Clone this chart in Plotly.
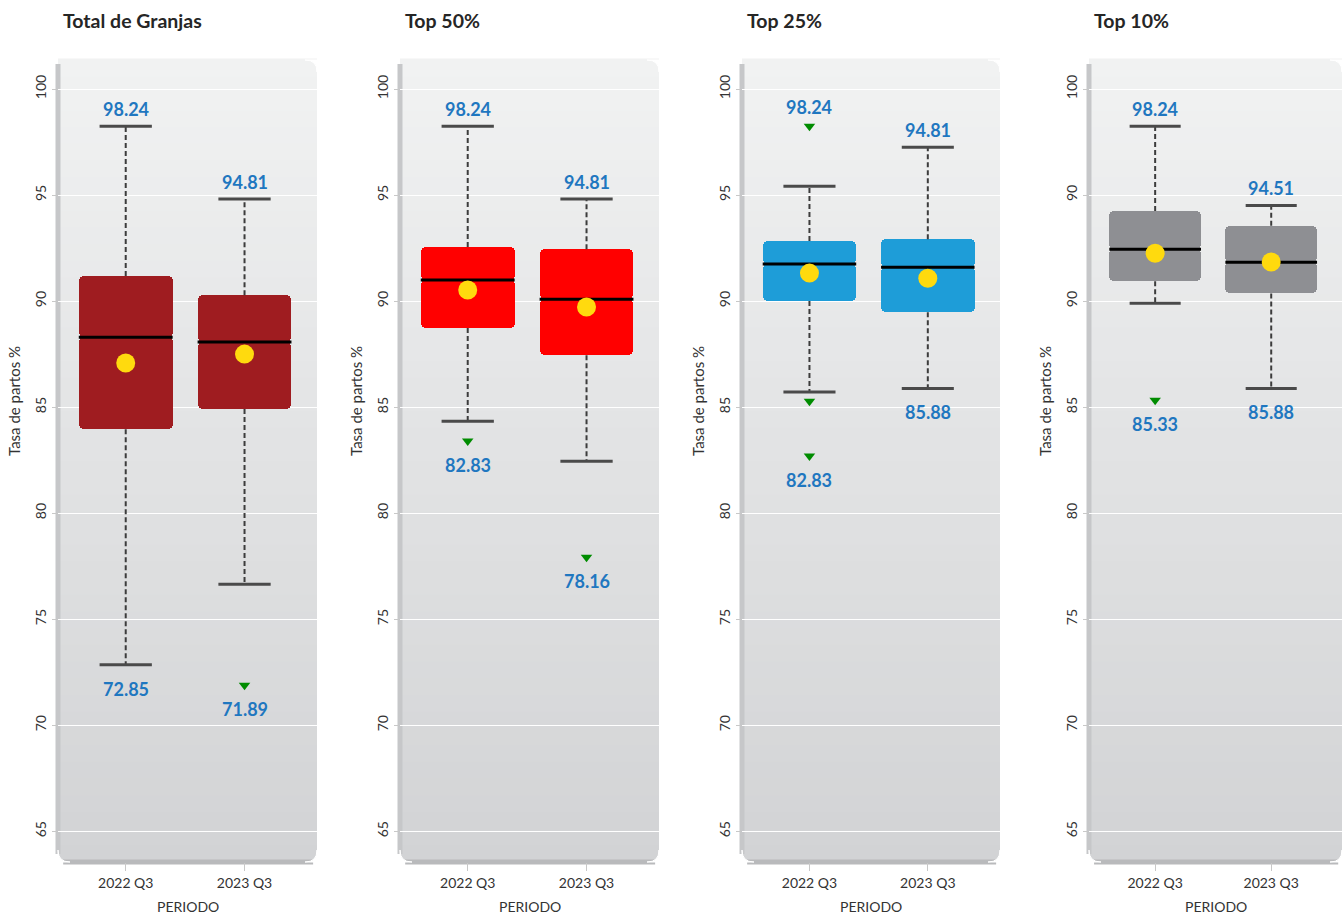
import plotly.graph_objects as go

# ---------------- data ----------------
periods = ["2022 Q3", "2023 Q3"]
panel_titles = ["Total de Granjas", "Top 50%", "Top 25%", "Top 10%"]
box_colors = ["#9F1C20", "#FF0000", "#1E9DD8", "#8E8F93"]

q1 = [[83.96, 84.91], [88.73, 87.45], [90.00, 89.48], [90.94, 90.36]]
medians = [[88.30, 88.07], [90.99, 90.09], [91.75, 91.60], [92.45, 91.83]]
q3 = [[91.18, 90.28], [92.55, 92.45], [92.83, 92.92], [94.25, 93.55]]
lower_whisker = [[72.85, 76.65], [84.34, 82.45], [85.71, 85.88], [89.90, 85.88]]
upper_whisker = [[98.24, 94.81], [98.24, 94.81], [95.42, 97.26], [98.24, 94.51]]
means = [[87.08, 87.50], [90.52, 89.72], [91.32, 91.08], [92.26, 91.84]]
outliers = [[[], [71.89]], [[83.40], [77.92]], [[98.24, 85.28, 82.69], []], [[85.33], []]]
top_labels = [["98.24", "94.81"], ["98.24", "94.81"], ["98.24", "94.81"], ["98.24", "94.51"]]
bottom_labels = [["72.85", "71.89"], ["82.83", "78.16"], ["82.83", "85.88"], ["85.33", "85.88"]]

y_tick_vals = [65, 70, 75, 80, 85, 90, 95, 100]
y_tick_text = [
    ["65", "70", "75", "80", "85", "90", "95", "100"],
    ["65", "70", "75", "80", "85", "90", "95", "100"],
    ["65", "70", "75", "80", "85", "90", "95", "100"],
    ["65", "70", "75", "80", "85", "90", "90", "100"],
]

# ---------------- layout constants ----------------
W, H = 1342, 916
FONT = "Lato"
panel_px = [(58, 317), (400, 659), (742, 1000), (1089, 1342)]
y_top_px, y_bot_px = 60, 862
y_range = [63.55, 101.37]
x_range = [-0.57, 1.61]
box_w = 0.79
cap_half = 0.22
LABEL_COLOR = "#1F77C0"

fig = go.Figure()
shapes = []
annotations = []


def lerp_color(c0, c1, t):
    a = [int(c0[i:i + 2], 16) for i in (1, 3, 5)]
    b = [int(c1[i:i + 2], 16) for i in (1, 3, 5)]
    return "rgb(%d,%d,%d)" % tuple(round(a[k] + (b[k] - a[k]) * t) for k in range(3))


for p in range(4):
    xa = "x" if p == 0 else f"x{p + 1}"
    ya = "y" if p == 0 else f"y{p + 1}"
    xs = [0, 1]

    # boxes: two halves so all four corners get rounded
    fig.add_trace(go.Bar(
        x=xs, base=medians[p], y=[q3[p][i] - medians[p][i] for i in range(2)],
        width=box_w, marker=dict(color=box_colors[p], line=dict(width=0), cornerradius=5),
        xaxis=xa, yaxis=ya, showlegend=False, hoverinfo="skip"))
    fig.add_trace(go.Bar(
        x=xs, base=medians[p], y=[q1[p][i] - medians[p][i] for i in range(2)],
        width=box_w, marker=dict(color=box_colors[p], line=dict(width=0), cornerradius=5),
        xaxis=xa, yaxis=ya, showlegend=False, hoverinfo="skip"))

    # dashed whiskers
    wx, wy = [], []
    for i in range(2):
        wx += [i, i, None, i, i, None]
        wy += [q3[p][i], upper_whisker[p][i], None, q1[p][i], lower_whisker[p][i], None]
    fig.add_trace(go.Scatter(x=wx, y=wy, mode="lines",
                             line=dict(color="#3C3C3C", width=2, dash="5px,3px"),
                             xaxis=xa, yaxis=ya, showlegend=False, hoverinfo="skip"))
    # caps
    cx, cy = [], []
    for i in range(2):
        for v in (upper_whisker[p][i], lower_whisker[p][i]):
            cx += [i - cap_half, i + cap_half, None]
            cy += [v, v, None]
    fig.add_trace(go.Scatter(x=cx, y=cy, mode="lines",
                             line=dict(color="#4A4A4A", width=3),
                             xaxis=xa, yaxis=ya, showlegend=False, hoverinfo="skip"))
    # medians
    mx, my = [], []
    for i in range(2):
        mx += [i - box_w / 2, i + box_w / 2, None]
        my += [medians[p][i], medians[p][i], None]
    fig.add_trace(go.Scatter(x=mx, y=my, mode="lines",
                             line=dict(color="#000000", width=3),
                             xaxis=xa, yaxis=ya, showlegend=False, hoverinfo="skip"))
    # means
    fig.add_trace(go.Scatter(x=xs, y=means[p], mode="markers",
                             marker=dict(color="#FFDA0E", size=19, line=dict(width=0)),
                             xaxis=xa, yaxis=ya, showlegend=False, hoverinfo="skip"))
    # outliers
    ox, oy = [], []
    for i in range(2):
        for v in outliers[p][i]:
            ox.append(i)
            oy.append(v)
    if ox:
        fig.add_trace(go.Scatter(x=ox, y=oy, mode="markers",
                                 marker=dict(color="#008C00", size=10, symbol="triangle-down",
                                             line=dict(width=0)),
                                 xaxis=xa, yaxis=ya, showlegend=False, hoverinfo="skip"))

    # value labels
    for i in range(2):
        top_v = max([upper_whisker[p][i]] + outliers[p][i])
        top_is_out = top_v in outliers[p][i] and top_v > upper_whisker[p][i]
        annotations.append(dict(
            x=i, y=top_v, xref=xa, yref=ya, text=f"<b>{top_labels[p][i]}</b>",
            showarrow=False, yanchor="bottom", yshift=6 if top_is_out else 4,
            font=dict(family=FONT, size=18, color=LABEL_COLOR)))
        bot_v = min([lower_whisker[p][i]] + outliers[p][i])
        annotations.append(dict(
            x=i, y=bot_v, xref=xa, yref=ya, text=f"<b>{bottom_labels[p][i]}</b>",
            showarrow=False, yanchor="top", yshift=-11,
            font=dict(family=FONT, size=18, color=LABEL_COLOR)))

    # panel title
    annotations.append(dict(
        x=0, xref=f"{xa} domain", xshift=3, y=1 - 20 / H, yref="paper",
        text=f"<b>{panel_titles[p]}</b>", showarrow=False, xanchor="left", yanchor="middle",
        font=dict(family=FONT, size=19.5, color="#262626")))
    # y title
    annotations.append(dict(
        x=0, xref=f"{xa} domain", xshift=-44, y=1 - 401 / H, yref="paper",
        text="Tasa de partos %", textangle=-90, showarrow=False,
        xanchor="center", yanchor="middle",
        font=dict(family=FONT, size=15, color="#333333")))
    # x title
    annotations.append(dict(
        x=0.5, xref=f"{xa} domain", y=1 - 906 / H, yref="paper",
        text="PERIODO", showarrow=False, xanchor="center", yanchor="middle",
        font=dict(family=FONT, size=14, color="#333333")))

    # background gradient panel
    N = 48
    for k in range(N):
        shapes.append(dict(type="rect", xref=f"{xa} domain", yref=f"{ya} domain",
                           x0=0, x1=1, y0=k / N, y1=(k + 1) / N + 0.002,
                           fillcolor=lerp_color("#D2D3D5", "#F1F2F2", k / (N - 1)),
                           line=dict(width=0), layer="below"))
    # left / bottom shadow border
    shapes.append(dict(type="line", xref=f"{xa} domain", yref=f"{ya} domain",
                       x0=0, x1=0, y0=0.01, y1=0.995, line=dict(color="#C6C7C9", width=5),
                       layer="below"))
    shapes.append(dict(type="line", xref=f"{xa} domain", yref=f"{ya} domain",
                       x0=0.02, x1=0.985, y0=0, y1=0, line=dict(color="#B9BABC", width=5),
                       layer="below"))
    # rounded corner masks
    pw = panel_px[p][1] - panel_px[p][0]
    ph = y_bot_px - y_top_px
    rx, ry = 12 / pw, 12 / ph
    corner_paths = [
        f"M 1,1 L {1 - rx},1 Q 1,1 1,{1 - ry} Z",
        f"M 1,0 L {1 - rx},0 Q 1,0 1,{ry} Z",
        f"M 0,0 L {rx},0 Q 0,0 0,{ry} Z",
    ]
    for path in corner_paths:
        shapes.append(dict(type="path", xref=f"{xa} domain", yref=f"{ya} domain",
                           path=path, fillcolor="#FFFFFF", line=dict(width=1, color="#FFFFFF"),
                           layer="below"))

# axes
layout_axes = {}
for p in range(4):
    xk = "xaxis" if p == 0 else f"xaxis{p + 1}"
    yk = "yaxis" if p == 0 else f"yaxis{p + 1}"
    ya = "y" if p == 0 else f"y{p + 1}"
    xa = "x" if p == 0 else f"x{p + 1}"
    x0, x1 = panel_px[p]
    layout_axes[xk] = dict(
        domain=[x0 / W, x1 / W], anchor=ya, range=x_range,
        tickmode="array", tickvals=[0, 1], ticktext=periods,
        showgrid=False, zeroline=False, showline=False,
        ticks="outside", ticklen=8, tickcolor="#C8C8C8", tickwidth=1,
        tickfont=dict(family=FONT, size=14, color="#333333"),
        fixedrange=True)
    layout_axes[yk] = dict(
        domain=[1 - y_bot_px / H, 1 - y_top_px / H], anchor=xa, range=y_range,
        tickmode="array", tickvals=y_tick_vals, ticktext=y_tick_text[p],
        tickangle=-90, showgrid=True, gridcolor="#FFFFFF", gridwidth=1,
        zeroline=False, showline=False,
        ticks="outside", ticklen=5, tickcolor="#C8C8C8",
        tickfont=dict(family=FONT, size=14, color="#333333"),
        fixedrange=True)

fig.update_layout(
    width=W, height=H,
    margin=dict(l=0, r=0, t=0, b=0),
    paper_bgcolor="#FFFFFF", plot_bgcolor="rgba(0,0,0,0)",
    barmode="overlay", bargap=0,
    showlegend=False,
    shapes=shapes, annotations=annotations,
    font=dict(family=FONT),
    **layout_axes,
)

fig.write_html("out.html", config={"displayModeBar": False},
               post_script="document.body.style.margin='0';document.body.style.overflow='hidden';")
